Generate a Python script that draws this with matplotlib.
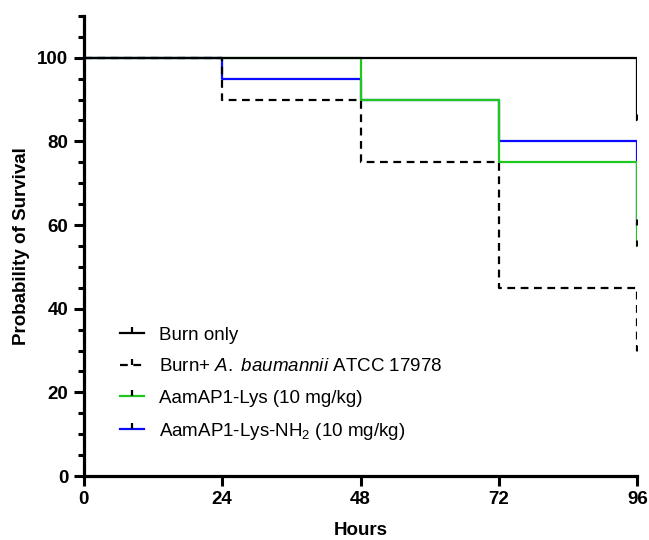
import matplotlib
matplotlib.use('Agg')
import matplotlib.pyplot as plt
from matplotlib.path import Path
from matplotlib.lines import Line2D

plt.rcParams['font.family'] = ['Liberation Sans', 'DejaVu Sans']
plt.rcParams['mathtext.fontset'] = 'custom'
plt.rcParams['mathtext.rm'] = 'Liberation Sans'
plt.rcParams['mathtext.it'] = 'Liberation Sans:italic'

# --- Survival data (hours, percent surviving) ---
hours = [0, 24, 48, 72, 96]
burn_only = [100, 100, 100, 100, 85]
burn_ab = [100, 90, 75, 45, 30]
aam_lys = [100, 100, 90, 75, 55]
aam_lys_nh2 = [100, 95, 90, 80, 60]

labels = ['Burn only',
          r'Burn+ $\it{A.\ baumannii}$ ATCC 17978',
          'AamAP1-Lys (10 mg/kg)',
          r'AamAP1-Lys-NH$_2$ (10 mg/kg)']
colors = ['black', 'black', '#1ec81e', '#0a0aff']
styles = ['-', (0, (3.5, 2.5)), '-', '-']
series = [burn_only, burn_ab, aam_lys, aam_lys_nh2]

# upward censor tick
censor = Path([(0, 0), (0, 1)], [Path.MOVETO, Path.LINETO])

fig = plt.figure(figsize=(6.49, 5.4), dpi=100)
ax = fig.add_axes([0.129, 0.1185, 0.853, 0.852])

# blue first, then green, dashed, solid black on top
order = [3, 2, 1, 0]
for z, i in enumerate(order):
    vals = series[i]
    ax.step(hours, vals, where='post', color=colors[i],
            linestyle=styles[i], linewidth=1.6, zorder=3 + z)
    ax.plot([hours[-1]], [vals[-1]], marker=censor, markersize=9,
            color='black', markeredgewidth=2, linestyle='none', zorder=8)

handles = [Line2D([], [], color=colors[i], linestyle=styles[i], linewidth=1.6,
                  marker=censor, markersize=9, markeredgecolor='black',
                  markeredgewidth=1.6) for i in range(4)]

ax.legend(handles, labels, loc='upper left', numpoints=1,
          bbox_to_anchor=(0.1594, 0.426), bbox_transform=fig.transFigure,
          frameon=False, fontsize=13.5, handlelength=1.25,
          labelspacing=0.76, handletextpad=0.8)

ax.set_xlim(0, 96)
ax.set_ylim(0, 110)
ax.set_xticks([0, 24, 48, 72, 96])
ax.set_yticks([0, 20, 40, 60, 80, 100])
ax.set_yticks(range(0, 111, 5), minor=True)

for s in ['top', 'right']:
    ax.spines[s].set_visible(False)
for s in ['left', 'bottom']:
    ax.spines[s].set_linewidth(2.3)

ax.tick_params(axis='both', which='major', width=2.2, length=7,
               labelsize=13.5, pad=4)
ax.tick_params(axis='y', which='minor', width=2.2, length=4.5)
for lab in ax.get_xticklabels() + ax.get_yticklabels():
    lab.set_fontweight('bold')

ax.set_xlabel('Hours', fontsize=13.5, fontweight='bold', labelpad=10)
ax.set_ylabel('Probability of Survival', fontsize=13.5, fontweight='bold',
              labelpad=5)

fig.savefig('out.png', dpi=100)
